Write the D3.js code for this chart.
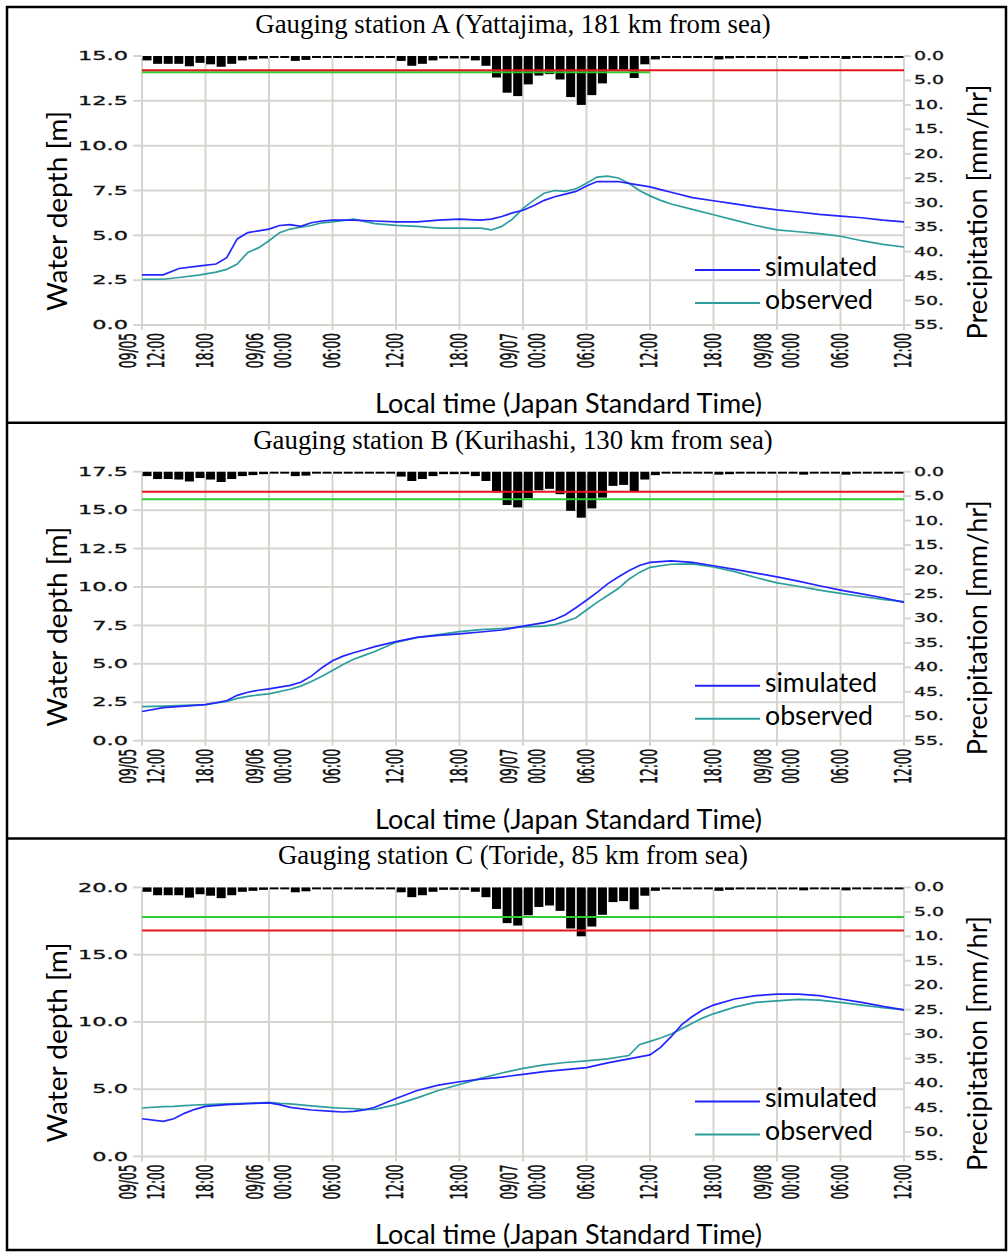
<!DOCTYPE html>
<html>
<head>
<meta charset="utf-8">
<script src="https://cdn.jsdelivr.net/npm/d3@7"></script>
<style>
  html, body { margin: 0; padding: 0; background: #fff; }
  svg { display: block; }
</style>
</head>
<body>
<svg id="chart" width="1008" height="1252"></svg>
<script>
// x axis: hours after 09/05 12:00 JST, labelled every 6 h
const tickHours = [0, 6, 12, 18, 24, 30, 36, 42, 48, 54, 60, 66, 72];
const tickTimes = ["12:00", "18:00", "00:00", "06:00", "12:00", "18:00", "00:00", "06:00", "12:00", "18:00", "00:00", "06:00", "12:00"];
const tickDates = ["09/05", "", "09/06", "", "", "", "09/07", "", "", "", "09/08", "", ""];
const precipTicks = [0, 5, 10, 15, 20, 25, 30, 35, 40, 45, 50, 55];

const titles = [
  "Gauging station A (Yattajima, 181 km from sea)",
  "Gauging station B (Kurihashi, 130 km from sea)",
  "Gauging station C (Toride, 85 km from sea)"
];
const depthMax = [15, 17.5, 20];
const depthStep = [2.5, 2.5, 5];

// station A water depth [m]
const hoursA = [0, 2, 3.5, 5.5, 7, 8, 9, 10, 11, 12, 13, 14, 15, 16, 17, 18, 20, 22, 24, 26, 28, 30, 32, 33, 34, 35, 36, 37, 38, 39, 40, 41, 42, 43, 44, 45, 46, 47, 48, 49, 50, 52, 54, 56, 58, 60, 62, 64, 66, 68, 70, 72];
const simulatedA = [2.8, 2.8, 3.15, 3.3, 3.4, 3.75, 4.8, 5.15, 5.25, 5.35, 5.55, 5.6, 5.5, 5.7, 5.8, 5.85, 5.85, 5.8, 5.75, 5.75, 5.85, 5.9, 5.85, 5.9, 6.05, 6.25, 6.4, 6.65, 6.95, 7.15, 7.3, 7.45, 7.75, 8.0, 8.0, 8.0, 7.9, 7.8, 7.7, 7.55, 7.4, 7.1, 6.93, 6.75, 6.57, 6.42, 6.3, 6.17, 6.07, 5.98, 5.85, 5.75];
const observedA = [2.55, 2.55, 2.65, 2.8, 2.95, 3.1, 3.4, 4.05, 4.3, 4.7, 5.15, 5.35, 5.45, 5.55, 5.7, 5.75, 5.9, 5.65, 5.55, 5.5, 5.4, 5.4, 5.4, 5.3, 5.5, 5.9, 6.5, 6.95, 7.35, 7.5, 7.45, 7.6, 7.9, 8.25, 8.3, 8.2, 7.9, 7.5, 7.2, 6.95, 6.75, 6.45, 6.15, 5.85, 5.55, 5.3, 5.2, 5.1, 4.95, 4.7, 4.5, 4.35];

// station B water depth [m]
const hoursB = [0, 2, 4, 6, 8, 9, 10, 11, 12, 14, 15, 16, 17, 18, 19, 20, 21, 22, 24, 26, 28, 30, 32, 34, 36, 38, 39, 40, 41, 42, 43, 44, 45, 46, 47, 48, 50, 52, 54, 56, 58, 60, 62, 64, 66, 68, 70, 72];
const simulatedB = [1.9, 2.15, 2.25, 2.35, 2.6, 2.95, 3.15, 3.28, 3.37, 3.6, 3.8, 4.2, 4.75, 5.2, 5.5, 5.72, 5.92, 6.12, 6.45, 6.72, 6.85, 6.95, 7.07, 7.2, 7.45, 7.68, 7.88, 8.2, 8.65, 9.14, 9.65, 10.2, 10.65, 11.05, 11.4, 11.6, 11.7, 11.6, 11.38, 11.15, 10.9, 10.66, 10.38, 10.08, 9.8, 9.55, 9.3, 9.0];
const observedB = [2.22, 2.25, 2.3, 2.35, 2.55, 2.75, 2.88, 2.98, 3.05, 3.35, 3.55, 3.85, 4.2, 4.57, 4.95, 5.3, 5.55, 5.8, 6.4, 6.72, 6.9, 7.1, 7.22, 7.3, 7.4, 7.45, 7.55, 7.75, 8.0, 8.5, 9.0, 9.45, 9.9, 10.5, 10.95, 11.28, 11.48, 11.5, 11.3, 11.0, 10.62, 10.27, 10.05, 9.8, 9.58, 9.38, 9.2, 9.05];

// station C water depth [m]
const hoursC = [0, 2, 3, 4, 5, 6, 8, 10, 12, 13, 14, 16, 18, 19, 20, 21, 22, 24, 26, 28, 30, 32, 34, 36, 38, 40, 42, 44, 46, 47, 48, 49, 50, 51, 52, 53, 54, 56, 58, 60, 62, 64, 66, 68, 70, 72];
const simulatedC = [2.8, 2.6, 2.8, 3.2, 3.5, 3.72, 3.85, 3.92, 3.98, 3.85, 3.65, 3.45, 3.35, 3.3, 3.35, 3.45, 3.65, 4.3, 4.9, 5.3, 5.55, 5.75, 5.9, 6.1, 6.3, 6.45, 6.6, 6.95, 7.25, 7.4, 7.55, 8.1, 8.9, 9.8, 10.4, 10.9, 11.25, 11.7, 11.95, 12.07, 12.07, 11.95, 11.7, 11.45, 11.15, 10.9];
const observedC = [3.6, 3.7, 3.72, 3.78, 3.82, 3.85, 3.9, 3.95, 4.02, 3.95, 3.9, 3.75, 3.62, 3.58, 3.55, 3.5, 3.5, 3.85, 4.35, 4.9, 5.35, 5.8, 6.2, 6.55, 6.8, 6.98, 7.1, 7.25, 7.5, 8.3, 8.55, 8.8, 9.1, 9.5, 9.9, 10.3, 10.6, 11.1, 11.45, 11.57, 11.68, 11.62, 11.45, 11.25, 11.05, 10.9];

// hourly precipitation [mm/hr], one value per hour from hour 0 to 71
const rainA = [0.9, 1.6, 1.6, 1.6, 2.1, 1.4, 1.7, 2.2, 1.6, 0.9, 0.7, 0.5,
  0.4, 0.4, 1.0, 0.8, 0.4, 0.4, 0.4, 0.4, 0.4, 0.4, 0.4, 0.4,
  1.0, 2.0, 1.6, 0.9, 0.5, 0.5, 0.5, 0.9, 2.0, 4.4, 7.5, 8.2,
  5.8, 4.0, 3.7, 4.8, 8.4, 10.0, 8.0, 5.6, 3.0, 2.8, 4.5, 1.7,
  0.7, 0.4, 0.4, 0.4, 0.4, 0.4, 0.7, 0.5, 0.4, 0.4, 0.4, 0.4,
  0.4, 0.4, 0.6, 0.4, 0.4, 0.4, 0.6, 0.4, 0.4, 0.4, 0.4, 0.4];
const rainB = [0.9, 1.5, 1.5, 1.6, 2.0, 1.3, 1.6, 2.1, 1.5, 0.9, 0.7, 0.5,
  0.4, 0.4, 0.9, 0.8, 0.4, 0.4, 0.4, 0.4, 0.4, 0.4, 0.4, 0.4,
  1.0, 1.9, 1.5, 0.9, 0.5, 0.5, 0.5, 0.9, 1.9, 4.2, 6.8, 7.3,
  5.4, 3.8, 3.5, 4.6, 8.0, 9.4, 7.5, 5.3, 2.9, 2.7, 4.1, 1.6,
  0.7, 0.4, 0.4, 0.4, 0.4, 0.4, 0.6, 0.5, 0.4, 0.4, 0.4, 0.4,
  0.4, 0.4, 0.6, 0.4, 0.4, 0.4, 0.6, 0.4, 0.4, 0.4, 0.4, 0.4];
const rainC = [0.9, 1.6, 1.6, 1.6, 2.1, 1.4, 1.7, 2.2, 1.6, 0.9, 0.7, 0.5,
  0.4, 0.4, 1.0, 0.8, 0.4, 0.4, 0.4, 0.4, 0.4, 0.4, 0.4, 0.4,
  1.0, 2.0, 1.6, 0.9, 0.5, 0.5, 0.5, 0.9, 2.0, 4.4, 7.3, 7.8,
  5.7, 4.0, 3.7, 4.8, 8.4, 10.0, 8.0, 5.6, 3.0, 2.8, 4.5, 1.7,
  0.7, 0.4, 0.4, 0.4, 0.4, 0.4, 0.7, 0.5, 0.4, 0.4, 0.4, 0.4,
  0.4, 0.4, 0.6, 0.4, 0.4, 0.4, 0.6, 0.4, 0.4, 0.4, 0.4, 0.4];

// reference water levels [m] (red / green) and the hour where each line stops
const redLevel = [14.2, 16.2, 16.8];
const greenLevel = [14.1, 15.7, 17.8];
const greenEnd = [48, 72, 72];
const redEnd = [72, 72, 72];

const seriesNames = ["simulated", "observed"];
const seriesColors = ["#2424ff", "#2e9e9c"];

const panels = [
  { hours: hoursA, sim: simulatedA, obs: observedA, rain: rainA },
  { hours: hoursB, sim: simulatedB, obs: observedB, rain: rainB },
  { hours: hoursC, sim: simulatedC, obs: observedC, rain: rainC }
];

const W = 1008, H = 1252;
const panelH = 415.7;
const plotLeft = 142, plotRight = 904;
const plotTop = 56, plotH = 269;
const gridColor = "#d8d5d0";
const tickFont = "'DejaVu Sans', sans-serif";
const labelFont = "Lato, 'Open Sans', sans-serif";

const svg = d3.select("#chart");
svg.append("rect").attr("width", W).attr("height", H).attr("fill", "#fff");

const x = d3.scaleLinear().domain([0, 72]).range([plotLeft, plotRight]);
const band = d3.scaleBand().domain(d3.range(72)).range([plotLeft, plotRight]).paddingInner(0.15).paddingOuter(0.05);

// clip for the right-hand labels (the original cuts "10.0" to "10.")
svg.append("defs").append("clipPath").attr("id", "rightClip")
  .append("rect").attr("x", plotRight).attr("y", 0).attr("width", 41).attr("height", H);

// tick label style: wide, dark glyphs like the stretched original
function tickText(sel) {
  sel.style("font-family", tickFont)
    .style("fill", "#111")
    .style("stroke", "#111")
    .style("stroke-width", "0.3px");
}

panels.forEach((p, i) => {
  const g = svg.append("g").attr("transform", `translate(0,${i * panelH})`);
  const top = plotTop, bottom = plotTop + plotH;
  const y = d3.scaleLinear().domain([0, depthMax[i]]).range([bottom, top]);
  const yRain = d3.scaleLinear().domain([0, 55]).range([top, bottom]);
  const depthTicks = d3.range(0, depthMax[i] + 0.001, depthStep[i]);

  // title
  g.append("text")
    .attr("x", 513).attr("y", 33)
    .attr("text-anchor", "middle")
    .style("font-family", "'Liberation Serif', 'Times New Roman', serif")
    .style("font-size", "26.8px")
    .text(titles[i]);

  // horizontal grid (not at the top, hidden by rain bars)
  g.selectAll(".hgrid")
    .data(depthTicks.filter(d => d < depthMax[i]))
    .join("line")
    .attr("x1", plotLeft).attr("x2", plotRight)
    .attr("y1", d => y(d)).attr("y2", d => y(d))
    .attr("stroke", gridColor).attr("stroke-width", 2);

  // vertical grid, extending slightly below the plot
  g.selectAll(".vgrid")
    .data(tickHours)
    .join("line")
    .attr("x1", d => x(d)).attr("x2", d => x(d))
    .attr("y1", top + 2).attr("y2", bottom + 5)
    .attr("stroke", gridColor).attr("stroke-width", 2);

  // left ticks
  g.selectAll(".ltick")
    .data(depthTicks)
    .join("line")
    .attr("x1", plotLeft - 9).attr("x2", plotLeft)
    .attr("y1", d => y(d)).attr("y2", d => y(d))
    .attr("stroke", gridColor).attr("stroke-width", 2);

  g.selectAll(".llabel")
    .data(depthTicks)
    .join("text")
    .attr("transform", d => `translate(${plotLeft - 14},${y(d)}) scale(1.95,1)`)
    .attr("text-anchor", "end")
    .attr("dominant-baseline", "central")
    .style("font-size", "11.5px")
    .call(tickText)
    .text(d => d3.format(".1f")(d));

  // right axis line and ticks
  g.append("line")
    .attr("x1", plotRight).attr("x2", plotRight)
    .attr("y1", top).attr("y2", bottom + 5)
    .attr("stroke", gridColor).attr("stroke-width", 2);

  g.selectAll(".rtick")
    .data(precipTicks)
    .join("line")
    .attr("x1", plotRight).attr("x2", plotRight + 7)
    .attr("y1", d => yRain(d)).attr("y2", d => yRain(d))
    .attr("stroke", gridColor).attr("stroke-width", 2);

  g.append("g").attr("clip-path", "url(#rightClip)")
    .selectAll("text")
    .data(precipTicks)
    .join("text")
    .attr("transform", d => `translate(${plotRight + 10},${yRain(d)}) scale(1.65,1)`)
    .attr("dominant-baseline", "central")
    .style("font-size", "11.5px")
    .call(tickText)
    .text(d => d3.format(".1f")(d));

  // bottom tick labels, rotated; two-line labels straddle the grid line
  tickHours.forEach((h, k) => {
    const lines = tickDates[k] ? [tickDates[k], tickTimes[k]] : [tickTimes[k]];
    lines.forEach((txt, j) => {
      const off = lines.length === 2 ? (j === 0 ? -14 : 14) : -1;
      g.append("text")
        .attr("transform", `translate(${x(h) + off},${bottom + 8}) scale(1.85,1) rotate(-90)`)
        .attr("text-anchor", "end")
        .attr("dominant-baseline", "central")
        .style("font-size", "12.2px")
        .call(tickText)
        .text(txt);
    });
  });

  // precipitation bars hanging from the top
  g.selectAll(".bar")
    .data(p.rain)
    .join("rect")
    .attr("x", (d, k) => band(k))
    .attr("width", band.bandwidth())
    .attr("y", yRain(0))
    .attr("height", d => yRain(d) - yRain(0))
    .attr("fill", "#000");

  // reference levels
  g.append("line")
    .attr("x1", x(0)).attr("x2", x(greenEnd[i]))
    .attr("y1", y(greenLevel[i])).attr("y2", y(greenLevel[i]))
    .attr("stroke", "#2ecc2e").attr("stroke-width", 2);
  g.append("line")
    .attr("x1", x(0)).attr("x2", x(redEnd[i]))
    .attr("y1", y(redLevel[i])).attr("y2", y(redLevel[i]))
    .attr("stroke", "#e8141c").attr("stroke-width", 2);

  // water depth lines
  const line = d3.line().x(d => x(d[0])).y(d => y(d[1]));
  const seriesData = [p.sim, p.obs];
  [1, 0].forEach(s => {
    g.append("path")
      .datum(p.hours.map((h, k) => [h, seriesData[s][k]]))
      .attr("d", line)
      .attr("fill", "none")
      .attr("stroke", seriesColors[s])
      .attr("stroke-width", 1.7);
  });

  // legend
  seriesNames.forEach((name, s) => {
    const ly = top + 214 + s * 33;
    g.append("line")
      .attr("x1", 695).attr("x2", 760)
      .attr("y1", ly).attr("y2", ly)
      .attr("stroke", seriesColors[s]).attr("stroke-width", 2);
    g.append("text")
      .attr("x", 765).attr("y", ly + 6)
      .style("font-family", labelFont)
      .style("font-size", "27px")
      .attr("textLength", s === 0 ? 112 : 108)
      .attr("lengthAdjust", "spacingAndGlyphs")
      .text(name);
  });

  // axis titles
  g.append("text")
    .attr("transform", `translate(67,${top + 155}) rotate(-90)`)
    .attr("text-anchor", "middle")
    .style("font-family", labelFont)
    .style("font-size", "27px")
    .attr("textLength", 200)
    .attr("lengthAdjust", "spacingAndGlyphs")
    .text("Water depth [m]");

  g.append("text")
    .attr("transform", `translate(987,${top + 156}) rotate(-90)`)
    .attr("text-anchor", "middle")
    .style("font-family", labelFont)
    .style("font-size", "27px")
    .attr("textLength", 255)
    .attr("lengthAdjust", "spacingAndGlyphs")
    .text("Precipitation [mm/hr]");

  g.append("text")
    .attr("x", 568.5).attr("y", 413)
    .attr("text-anchor", "middle")
    .style("font-family", labelFont)
    .style("font-size", "27px")
    .attr("textLength", 387)
    .attr("lengthAdjust", "spacingAndGlyphs")
    .text("Local time (Japan Standard Time)");
});

// table borders
svg.append("rect")
  .attr("x", 7).attr("y", 7).attr("width", 999).attr("height", 1243)
  .attr("fill", "none").attr("stroke", "#000").attr("stroke-width", 2.5);
[1, 2].forEach(k => {
  svg.append("line")
    .attr("x1", 7).attr("x2", 1006)
    .attr("y1", 7 + k * panelH).attr("y2", 7 + k * panelH)
    .attr("stroke", "#000").attr("stroke-width", 2.5);
});
</script>
</body>
</html>
